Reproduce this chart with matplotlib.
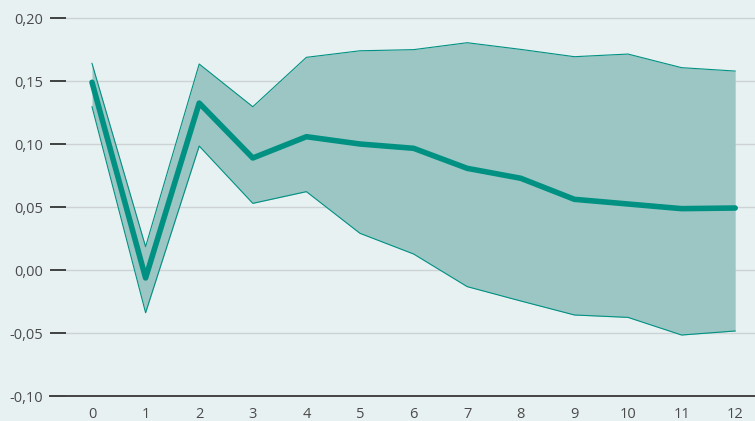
import matplotlib
matplotlib.use("Agg")
import matplotlib.pyplot as plt
from matplotlib.lines import Line2D

horizon = list(range(13))
estimate = [0.149, -0.0063, 0.1325, 0.0889, 0.1058, 0.100, 0.0966, 0.0807, 0.0728, 0.0561, 0.0524, 0.0487, 0.0492]
upper = [0.164, 0.0185, 0.1635, 0.1296, 0.1688, 0.174, 0.1749, 0.1804, 0.1751, 0.1693, 0.1714, 0.1606, 0.1579]
lower = [0.1296, -0.0339, 0.0984, 0.0529, 0.0622, 0.0291, 0.0127, -0.0132, -0.0246, -0.0357, -0.0376, -0.0516, -0.0484]
yticks = [-0.10, -0.05, 0.00, 0.05, 0.10, 0.15, 0.20]
ytick_labels = ["-0,10", "-0,05", "0,00", "0,05", "0,10", "0,15", "0,20"]

W, H = 755, 421
bg = "#e8f1f2"
line_c = "#009182"
fill_c = "#9bc6c4"

plt.rcParams['font.family'] = ['Open Sans', 'DejaVu Sans']
fig = plt.figure(figsize=(W/100, H/100), dpi=100, facecolor=bg)
ax = fig.add_axes([66/W, 1 - 396/H, (755-66)/W, 396/H])
ax.set_facecolor(bg)

ax.fill_between(horizon, lower, upper, color=fill_c, lw=0, zorder=2)
ax.plot(horizon, upper, color=line_c, lw=0.8, zorder=3)
ax.plot(horizon, lower, color=line_c, lw=0.8, zorder=3)
ax.plot(horizon, estimate, color=line_c, lw=4, solid_capstyle='round', solid_joinstyle='round', zorder=4)

ax.set_xlim(-0.485, 12.37)
ax.set_ylim(-0.10, 0.2143)
ax.set_xticks(horizon)
ax.set_xticklabels([str(h) for h in horizon])
ax.set_yticks(yticks)
ax.set_yticklabels(ytick_labels)
for y in yticks[1:]:
    ax.axhline(y, color="#cdd3d4", lw=1.0, zorder=1)
for s in ax.spines.values():
    s.set_visible(False)
ax.tick_params(axis='x', length=0, pad=8, labelsize=10.5, labelcolor="#4a4a4a")
ax.tick_params(axis='y', length=11.5, width=1.3, color="#333333", direction='out', pad=5, labelsize=10.5, labelcolor="#4a4a4a")
fig.add_artist(Line2D([50/W, 1], [1 - 396/H]*2, transform=fig.transFigure, color="#444444", lw=1.4))

fig.savefig("out.png", dpi=100, facecolor=bg)
